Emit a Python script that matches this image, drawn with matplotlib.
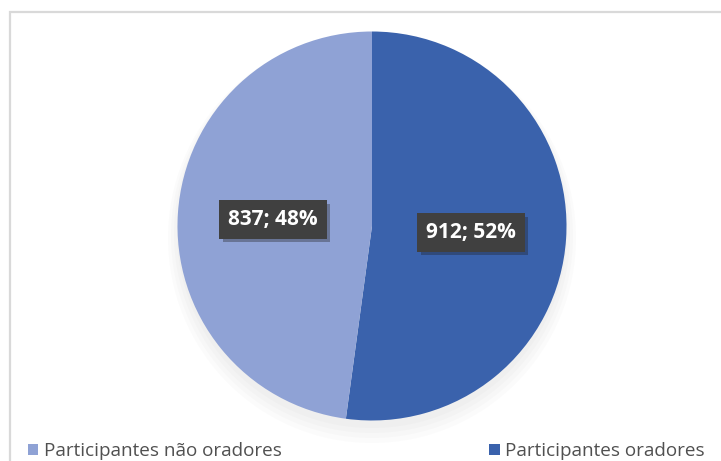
import matplotlib
matplotlib.use("Agg")
import matplotlib.pyplot as plt
import matplotlib.patheffects as pe
from matplotlib.patches import Rectangle, Ellipse

# data
labels = ["Participantes oradores", "Participantes não oradores"]
values = [912, 837]
colors = ["#3A62AC", "#8FA2D5"]

W, H = 721, 461
plt.rcParams["font.family"] = ["Open Sans", "DejaVu Sans"]

fig = plt.figure(figsize=(W / 100, H / 100), dpi=100)
ax = fig.add_axes([0, 0, 1, 1])

total = sum(values)


def fmt(p):
    return f"{round(p * total / 100)}; {p:.0f}%"


# soft shadow under the pie
for i in range(4):
    ax.add_patch(Ellipse((372, H - 226 - 6 - i * 2), 390 + i * 6, 392 + i * 6,
                         facecolor="#a0a0a0", edgecolor="none", alpha=0.04, zorder=0))

wedges, texts, autotexts = ax.pie(
    values, colors=colors, startangle=90, counterclock=False,
    center=(372, H - 226), radius=194.5, autopct=fmt, pctdistance=0.51,
    wedgeprops=dict(linewidth=0),
    textprops=dict(color="white", fontsize=15, fontweight="bold"),
)
for t in autotexts:
    t.set_bbox(dict(boxstyle="square,pad=0.42", facecolor="#404040", edgecolor="none"))
    t.get_bbox_patch().set_path_effects([
        pe.SimplePatchShadow(offset=(2.5, -2.5), shadow_rgbFace="#202020", alpha=0.35),
        pe.Normal(),
    ])

ax.set_xlim(0, W)
ax.set_ylim(0, H)
ax.axis("off")

# chart border
ax.add_patch(Rectangle((10, -20), W + 20, H - 12 + 20, fill=False,
                       edgecolor="#D9D9D9", linewidth=1.6, zorder=5))

leg = ax.legend([wedges[1], wedges[0]], [labels[1], labels[0]],
                loc="lower left", bbox_to_anchor=(20 / W, -7 / H), ncol=2,
                frameon=False, fontsize=13.6, handlelength=0.55, handleheight=0.55,
                handletextpad=0.3, columnspacing=11.0, borderaxespad=0)
for t in leg.get_texts():
    t.set_color("#505050")

fig.savefig("out.png", dpi=100)
